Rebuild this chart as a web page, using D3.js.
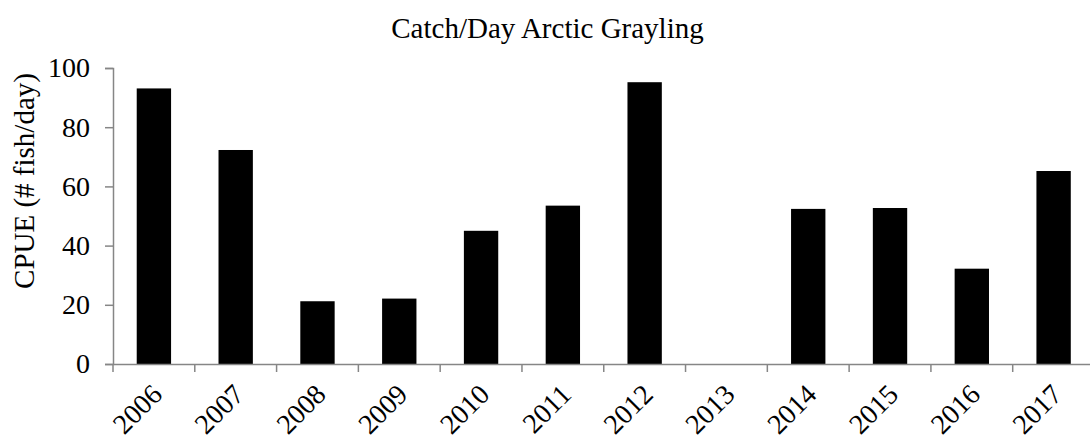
<!DOCTYPE html>
<html>
<head>
<meta charset="utf-8">
<script src="https://cdn.jsdelivr.net/npm/d3@7"></script>
<style>
  html, body { margin: 0; padding: 0; background: #fff; }
  svg { display: block; font-family: "Liberation Serif", "Times New Roman", serif; }
</style>
</head>
<body>
<svg id="chart" width="1090" height="445"></svg>
<script>
const years = ["2006","2007","2008","2009","2010","2011","2012","2013","2014","2015","2016","2017"];
const cpue = [93.1, 72.3, 21.2, 22.1, 45.0, 53.5, 95.2, 0, 52.4, 52.7, 32.2, 65.2];
const yTicks = [0, 20, 40, 60, 80, 100];
const chartTitle = "Catch/Day Arctic Grayling";
const yTitle = "CPUE (# fish/day)";

const svg = d3.select("#chart");
const axisColor = "#868686";
const plotLeft = 113, plotRight = 1094.5, plotTop = 68, plotBottom = 364;

const x = d3.scaleBand().domain(years).range([plotLeft, plotRight]).paddingInner(0.58).paddingOuter(0.29);
const y = d3.scaleLinear().domain([0, 100]).range([plotBottom, plotTop]);

// bars
svg.append("g").selectAll("rect").data(years).join("rect")
  .attr("x", d => x(d))
  .attr("width", x.bandwidth())
  .attr("y", (d, i) => y(cpue[i]))
  .attr("height", (d, i) => y(0) - y(cpue[i]))
  .attr("fill", "#000");

// y axis
const yAxis = svg.append("g").attr("transform", `translate(${plotLeft},0)`)
  .call(d3.axisLeft(y).tickValues(yTicks).tickSize(8).tickPadding(15).tickFormat(d3.format("d")));
yAxis.select(".domain").attr("stroke", axisColor).attr("stroke-width", 1.5);
yAxis.selectAll(".tick line").attr("stroke", axisColor).attr("stroke-width", 1.5);
yAxis.selectAll(".tick text").attr("font-size", 28).attr("fill", "#000")
  .attr("font-family", "Liberation Serif, Times New Roman, serif");

// x axis
const xAxis = svg.append("g").attr("transform", `translate(0,${plotBottom})`)
  .call(d3.axisBottom(x).tickSize(0).tickPadding(0).tickSizeOuter(0));
xAxis.select(".domain").attr("stroke", axisColor).attr("stroke-width", 1.5);
xAxis.selectAll(".tick text")
  .attr("font-size", 28)
  .attr("font-family", "Liberation Serif, Times New Roman, serif")
  .attr("fill", "#000")
  .attr("text-anchor", "end")
  .attr("dy", null).attr("y", 0)
  .attr("transform", "translate(10,32) rotate(-45)");

// boundary tick marks on x axis
const bounds = d3.range(years.length + 1).map(i => x.range()[0] + i * x.step());
svg.append("g").selectAll("line").data(bounds).join("line")
  .attr("x1", d => d).attr("x2", d => d)
  .attr("y1", plotBottom).attr("y2", plotBottom + 8)
  .attr("stroke", axisColor).attr("stroke-width", 1.5);

// title
svg.append("text").attr("x", 547.5).attr("y", 38).attr("text-anchor", "middle")
  .attr("font-size", 29).text(chartTitle);

// y title
svg.append("text").attr("transform", "translate(34,181) rotate(-90)")
  .attr("text-anchor", "middle").attr("font-size", 29).text(yTitle);
</script>
</body>
</html>
